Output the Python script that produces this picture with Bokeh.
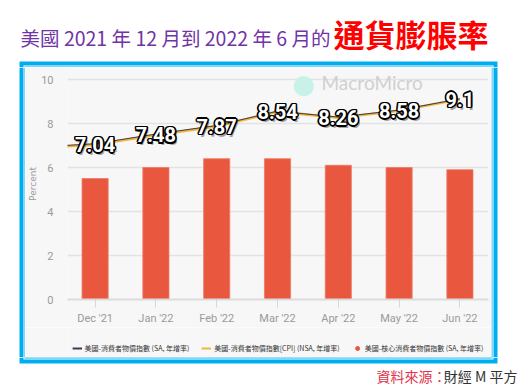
from bokeh.plotting import figure
from bokeh.layouts import column, row
from bokeh.models import (ColumnDataSource, Legend, LegendItem, Label, BoxAnnotation,
                          FixedTicker, Range1d)
from bokeh.core.properties import value
from bokeh.embed import file_html
from bokeh.resources import INLINE

# ---------------- data ----------------
months = ["Dec '21", "Jan '22", "Feb '22", "Mar '22", "Apr '22", "May '22", "Jun '22"]
cpi_sa = [7.08, 7.52, 7.91, 8.56, 8.29, 8.61, 9.12]          # 美國-消費者物價指數 (SA)
cpi_nsa = [7.04, 7.48, 7.87, 8.54, 8.26, 8.58, 9.1]          # 美國-消費者物價指數[CPI] (NSA)
core_sa = [5.5, 6.0, 6.4, 6.4, 6.1, 6.0, 5.9]                # 美國-核心消費者物價指數 (SA)
prev_month = "Nov '21"          # previous month, only visible as the line entering the chart
prev_cpi_sa = 6.92
prev_cpi_nsa = 6.88
label_texts = ["7.04", "7.48", "7.87", "8.54", "8.26", "8.58", "9.1"]
y_ticks = [0, 2, 4, 6, 8, 10]

title_main = "美國 2021 年 12 月到 2022 年 6 月的"
title_red = "通貨膨脹率"
source_red = "資料來源："
source_black = "財經 M 平方"
series_names = ["美國-消費者物價指數 (SA, 年增率)",
                "美國-消費者物價指數[CPI] (NSA, 年增率)",
                "美國-核心消費者物價指數 (SA, 年增率)"]

# ---------------- sources ----------------
idx = list(range(len(months)))
bars = ColumnDataSource(dict(x=idx, core=core_sa, nsa=cpi_nsa, lab=label_texts))
lines = ColumnDataSource(dict(x=[-1] + idx, sa=[prev_cpi_sa] + cpi_sa,
                              nsa=[prev_cpi_nsa] + cpi_nsa))

CJK = "Noto Sans CJK TC"
TICKF = "Roboto"
BLUE = "#00aeef"
GRAY = "#f7f7f7"
BAR = "#e9573f"
YELLOW = "#f2b53f"
DARK = "#3c3c50"


def strip(w, h, bg="white"):
    return figure(width=w, height=h, output_backend="svg", toolbar_location=None,
                  x_axis_type=None, y_axis_type=None, min_border=0,
                  min_border_left=0, min_border_right=0, min_border_top=0,
                  min_border_bottom=0, outline_line_color=None,
                  background_fill_color=bg, border_fill_color=bg)


def box(f, l, r, t, b, color):
    f.add_layout(BoxAnnotation(left=l, right=r, top=t, bottom=b,
                               left_units="canvas", right_units="canvas",
                               top_units="canvas", bottom_units="canvas",
                               fill_color=color, fill_alpha=1, line_color=None,
                               editable=False))


# ---------------- title strip + top edge of the blue frame (y 0..67) ----------------
top = strip(526, 67)
top.add_layout(Label(x=330, y=37, x_units="canvas", y_units="canvas", text=title_main,
                     text_color="#7233a6", text_font_size="19.5px", text_align="right",
                     text_baseline="middle", text_font=CJK))
top.add_layout(Label(x=333, y=33, x_units="canvas", y_units="canvas", text=title_red,
                     text_color="#ff0000", text_font_size="31px", text_font_style="bold",
                     text_align="left", text_baseline="middle", text_font=CJK))
box(top, 19, 497, 61, 67, BLUE)
box(top, 23, 493, 65, 67, "white")
box(top, 24, 492, 66, 67, BLUE)

# ---------------- side edges of the blue frame ----------------
bleft = strip(25, 290)
box(bleft, 19, 25, 0, 290, BLUE)
box(bleft, 23, 24, 0, 290, "white")

bright = strip(35, 290)
box(bright, 0, 6, 0, 290, BLUE)
box(bright, 1, 2, 0, 290, "white")

# ---------------- main chart (x 25..491, y 67..327) ----------------
p = figure(width=466, height=260, x_range=Range1d(-0.454, 6.47), y_range=Range1d(0, 10.5),
           output_backend="svg", toolbar_location=None,
           min_border_left=36, min_border_right=3, min_border_top=1, min_border_bottom=27,
           background_fill_color=GRAY, border_fill_color=GRAY, outline_line_color=None)

p.yaxis.ticker = FixedTicker(ticks=y_ticks)
p.yaxis.axis_line_color = None
p.yaxis.major_tick_line_color = None
p.yaxis.minor_tick_line_color = None
p.yaxis.major_label_text_color = "#9a9a9a"
p.yaxis.major_label_text_font = TICKF
p.yaxis.major_label_text_font_size = "11px"
p.yaxis.major_label_standoff = 8
p.yaxis.axis_label = "Percent"
p.yaxis.axis_label_text_font = "DejaVu Sans"
p.yaxis.axis_label_text_font_style = "normal"
p.yaxis.axis_label_text_font_size = "9px"
p.yaxis.axis_label_text_color = "#9a9a9a"
p.yaxis.axis_label_standoff = 0

p.xaxis.ticker = FixedTicker(ticks=idx)
p.xaxis.major_label_overrides = {i: m for i, m in enumerate(months)}
p.xaxis.axis_line_color = "#dcdcdc"
p.xaxis.axis_line_width = 2
p.xaxis.major_tick_line_color = "#d6d6d6"
p.xaxis.major_tick_in = 0
p.xaxis.major_tick_out = 8
p.xaxis.minor_tick_line_color = None
p.xaxis.major_label_text_color = "#9a9a9a"
p.xaxis.major_label_text_font = TICKF
p.xaxis.major_label_text_font_size = "11px"
p.xaxis.major_label_standoff = 4

p.xgrid.grid_line_color = None
p.ygrid.grid_line_color = "#e3e3e3"
p.ygrid.grid_line_width = 1.5

# watermark
p.add_layout(Label(x=278, y=16, x_units="canvas", y_units="canvas", text="●",
                   text_color="#c8f1e9", text_font_size="26px", text_align="center",
                   text_baseline="middle", text_font="DejaVu Sans"))
p.add_layout(Label(x=296, y=15, x_units="canvas", y_units="canvas", text="MacroMicro",
                   text_color="#d0d0d0", text_font_size="19px", text_align="left",
                   text_baseline="middle", text_font="Lato"))

p.vbar(x="x", top="core", width=0.43, source=bars, fill_color=BAR,
       line_color="#ef7a66", line_width=0.8)
p.line(x="x", y="nsa", source=lines, line_color=YELLOW, line_width=2.6)
p.line(x="x", y="sa", source=lines, line_color=DARK, line_width=1.0)

lab_kw = dict(x="x", y="nsa", text="lab", source=bars, text_align="center",
              text_baseline="middle", text_font=value("Roboto"),
              text_font_style="bold", text_font_size="20px")
p.text(text_color="black", text_alpha=0.35, x_offset=2, y_offset=3, **lab_kw)
for dx, dy in [(-1.6, 0), (1.6, 0), (0, -1.6), (0, 1.6),
               (-1.2, -1.2), (1.2, -1.2), (-1.2, 1.2), (1.2, 1.2)]:
    p.text(text_color="black", x_offset=dx, y_offset=dy, **lab_kw)
p.text(text_color="white", **lab_kw)

# ---------------- legend strip (y 327..357) ----------------
leg = strip(466, 30, GRAY)
l_sa = leg.line(x=idx[:2], y=cpi_sa[:2], line_color=DARK, line_width=2, visible=False)
l_nsa = leg.line(x=idx[:2], y=cpi_nsa[:2], line_color=YELLOW, line_width=2, visible=False)
l_core = leg.scatter(x=idx[:2], y=core_sa[:2], marker="circle", size=8, color=BAR,
                     visible=False)
legend = Legend(items=[LegendItem(label=series_names[0], renderers=[l_sa]),
                       LegendItem(label=series_names[1], renderers=[l_nsa]),
                       LegendItem(label=series_names[2], renderers=[l_core])],
                orientation="horizontal", location="bottom_center",
                background_fill_alpha=0, border_line_alpha=0,
                glyph_width=10, glyph_height=10, label_standoff=3, spacing=12,
                padding=0, margin=4, inactive_fill_alpha=0,
                label_text_font=CJK, label_text_font_size="7px",
                label_text_color="#333333", label_height=10)
leg.add_layout(legend, "center")

# ---------------- bottom edge of the blue frame + source (y 357..390) ----------------
bot = strip(526, 33)
box(bot, 19, 497, 0, 6, BLUE)
box(bot, 23, 493, 0, 2, "white")
box(bot, 24, 492, 0, 1, BLUE)
bot.add_layout(Label(x=517, y=18, x_units="canvas", y_units="canvas", text=source_black,
                     text_color="#333333", text_font_size="14px", text_align="right",
                     text_baseline="middle", text_font=CJK))
bot.add_layout(Label(x=446, y=18, x_units="canvas", y_units="canvas", text=source_red,
                     text_color="#e2334d", text_font_size="14px", text_align="right",
                     text_baseline="middle", text_font=CJK))

middle = row(bleft, column(p, leg, spacing=0), bright, spacing=0)
layout = column(top, middle, bot, spacing=0)
open("out.html", "w").write(file_html(layout, INLINE))
